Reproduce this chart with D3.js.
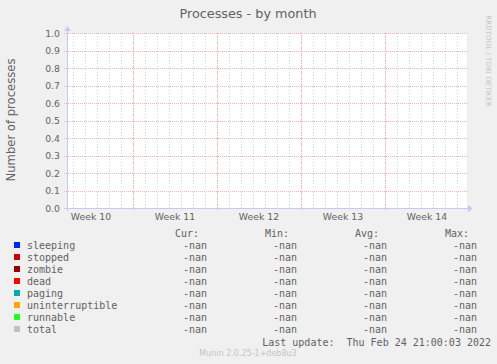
<!doctype html>
<html lang="en">
<head>
<meta charset="utf-8">
<title>Processes - by month</title>
<script src="https://d3js.org/d3.v7.min.js"></script>
<style>
body { margin: 0; background: #f0f0f0; }
svg { display: block; }
.mono { font-family: "DejaVu Sans Mono", monospace; font-size: 10px; fill: #626262; }
.sans { font-family: "DejaVu Sans", sans-serif; fill: #626262; }
</style>
</head>
<body>
<div id="chart"></div>
<script>
// chart values
var seriesNames  = ["sleeping", "stopped", "zombie", "dead", "paging", "uninterruptible", "runnable", "total"];
var seriesColors = ["#0022ff", "#cc0000", "#990000", "#ff0000", "#00aaaa", "#ffa500", "#22ff22", "#c0c0c0"];
var curValues = ["-nan", "-nan", "-nan", "-nan", "-nan", "-nan", "-nan", "-nan"];
var minValues = ["-nan", "-nan", "-nan", "-nan", "-nan", "-nan", "-nan", "-nan"];
var avgValues = ["-nan", "-nan", "-nan", "-nan", "-nan", "-nan", "-nan", "-nan"];
var maxValues = ["-nan", "-nan", "-nan", "-nan", "-nan", "-nan", "-nan", "-nan"];
var columnHeads = ["Cur:", "Min:", "Avg:", "Max:"];
var yTicks = [0, 0.1, 0.2, 0.3, 0.4, 0.5, 0.6, 0.7, 0.8, 0.9, 1.0];
var weekLabels = ["Week 10", "Week 11", "Week 12", "Week 13", "Week 14"];
var weekStarts = ["2022-03-07", "2022-03-14", "2022-03-21", "2022-03-28", "2022-04-04"];
var timeStart = new Date(Date.UTC(2022, 2, 8, 12));
var timeEnd   = new Date(Date.UTC(2022, 3, 10, 20));

var W = 497, H = 364;
var plotL = 67, plotR = 467, plotT = 33, plotB = 208;

var svg = d3.select("#chart").append("svg")
    .attr("width", W).attr("height", H);

svg.append("rect").attr("width", W).attr("height", H).attr("fill", "#f0f0f0");
svg.append("rect")
    .attr("x", plotL).attr("y", plotT)
    .attr("width", plotR - plotL).attr("height", plotB - plotT)
    .attr("fill", "#fff");

var x = d3.scaleUtc().domain([timeStart, timeEnd]).range([plotL, plotR]);
var y = d3.scaleLinear().domain([0, 1]).range([plotB, plotT]);

var weekDates = weekStarts.map(function(d) { return d3.utcParse("%Y-%m-%d")(d); });

// minor grid: one line per day
var days = d3.utcDay.range(timeStart, timeEnd);
svg.append("g").selectAll("line").data(days).enter().append("line")
    .attr("x1", function(d) { return Math.round(x(d)) + 0.5; })
    .attr("x2", function(d) { return Math.round(x(d)) + 0.5; })
    .attr("y1", plotT).attr("y2", plotB)
    .attr("stroke", "#d6d6d6").attr("stroke-dasharray", "1,2")
    .attr("shape-rendering", "crispEdges");

// major grid: weeks
var mondays = d3.utcMonday.range(timeStart, timeEnd);
svg.append("g").selectAll("line").data(mondays).enter().append("line")
    .attr("x1", function(d) { return Math.round(x(d)) + 0.5; })
    .attr("x2", function(d) { return Math.round(x(d)) + 0.5; })
    .attr("y1", plotT).attr("y2", plotB + 3)
    .attr("stroke", "#f5b4b4").attr("stroke-dasharray", "1,1")
    .attr("shape-rendering", "crispEdges");

// horizontal grid
svg.append("g").selectAll("line").data(yTicks.slice(1)).enter().append("line")
    .attr("x1", plotL - 3).attr("x2", plotR)
    .attr("y1", function(d) { return Math.round(y(d)) + 0.5; })
    .attr("y2", function(d) { return Math.round(y(d)) + 0.5; })
    .attr("stroke", "#f5b4b4").attr("stroke-dasharray", "1,1")
    .attr("shape-rendering", "crispEdges");

// axes lines + arrows
var axisColor = "#c8c8f4";
svg.append("line").attr("x1", plotL + 0.5).attr("x2", plotL + 0.5)
    .attr("y1", plotT - 3).attr("y2", plotB + 3)
    .attr("stroke", axisColor).attr("shape-rendering", "crispEdges");
svg.append("line").attr("x1", plotL - 3).attr("x2", plotR + 3)
    .attr("y1", plotB + 0.5).attr("y2", plotB + 0.5)
    .attr("stroke", axisColor).attr("shape-rendering", "crispEdges");
svg.append("path")
    .attr("d", "M" + (plotL - 3) + "," + (plotT - 2) + "L" + (plotL + 4) + "," + (plotT - 2) + "L" + (plotL + 0.5) + "," + (plotT - 7) + "Z")
    .attr("fill", axisColor);
svg.append("path")
    .attr("d", "M" + (plotR + 1) + "," + (plotB - 3) + "L" + (plotR + 1) + "," + (plotB + 4) + "L" + (plotR + 6) + "," + (plotB + 0.5) + "Z")
    .attr("fill", axisColor);

// y tick labels
svg.append("g").selectAll("text").data(yTicks).enter().append("text")
    .attr("class", "sans")
    .attr("x", plotL - 7)
    .attr("y", function(d) { return y(d) + 3.5; })
    .attr("text-anchor", "end")
    .style("font-size", "9.3px")
    .text(function(d) { return d3.format(".1f")(d); });

// week labels, centred in each week
svg.append("g").selectAll("text").data(weekDates).enter().append("text")
    .attr("class", "sans")
    .attr("x", function(d) { return x(d3.utcHour.offset(d, 84)); })
    .attr("y", plotB + 12)
    .attr("text-anchor", "middle")
    .style("font-size", "9.3px")
    .text(function(d, i) { return weekLabels[i]; });

// title
svg.append("text").attr("class", "sans")
    .attr("x", 248).attr("y", 18)
    .attr("text-anchor", "middle")
    .style("font-size", "12.8px")
    .text("Processes - by month");

// y axis title
svg.append("text").attr("class", "sans")
    .attr("transform", "translate(15,120) rotate(-90)")
    .attr("text-anchor", "middle")
    .style("font-size", "11.6px")
    .text("Number of processes");

// watermark
svg.append("text")
    .attr("transform", "translate(486,61) rotate(90)")
    .attr("text-anchor", "middle")
    .style("font-family", "DejaVu Sans, sans-serif")
    .style("font-size", "7.1px")
    .attr("fill", "#c4c4c4")
    .text("RRDTOOL / TOBI OETIKER");

// legend
var colRight = [207, 297, 387, 477];
var cols = [curValues, minValues, avgValues, maxValues];

svg.append("g").selectAll("text").data(columnHeads).enter().append("text")
    .attr("class", "mono")
    .attr("x", function(d, i) { return colRight[i] - 8; })
    .attr("y", 237)
    .attr("text-anchor", "end")
    .text(function(d) { return d; });

var rows = svg.append("g").selectAll("g").data(seriesNames).enter().append("g")
    .attr("transform", function(d, i) { return "translate(0," + (249 + i * 12) + ")"; });

rows.append("rect")
    .attr("x", 14).attr("y", -7)
    .attr("width", 6).attr("height", 6)
    .attr("fill", function(d, i) { return seriesColors[i]; });

rows.append("text").attr("class", "mono")
    .attr("x", 27).attr("y", 0)
    .text(function(d) { return d; });

cols.forEach(function(vals, c) {
    rows.append("text").attr("class", "mono")
        .attr("x", colRight[c]).attr("y", 0)
        .attr("text-anchor", "end")
        .text(function(d, i) { return vals[i]; });
});

svg.append("text").attr("class", "mono")
    .attr("x", 491).attr("y", 345.5)
    .attr("text-anchor", "end")
    .attr("xml:space", "preserve")
    .style("white-space", "pre")
    .text("Last update:  Thu Feb 24 21:00:03 2022");

svg.append("text")
    .attr("x", 248).attr("y", 355.5)
    .attr("text-anchor", "middle")
    .style("font-family", "DejaVu Sans, sans-serif")
    .style("font-size", "8px")
    .attr("fill", "#c4c4c4")
    .text("Munin 2.0.25-1+deb8u3");
</script>
</body>
</html>
